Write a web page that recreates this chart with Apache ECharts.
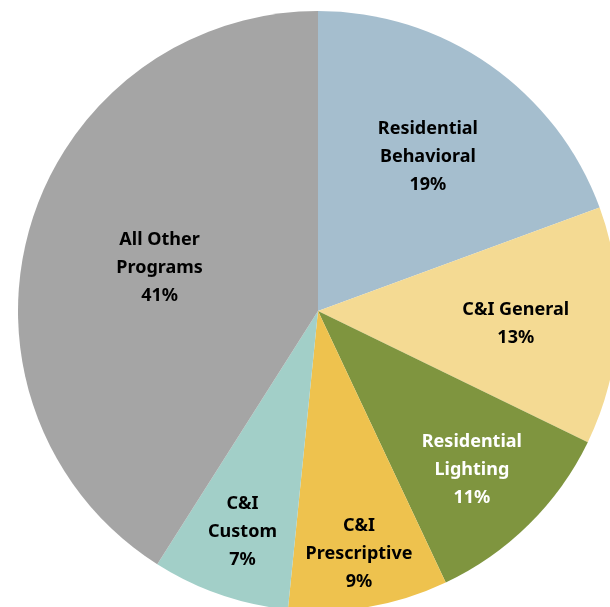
<!DOCTYPE html>
<html>
<head>
<meta charset="utf-8">
<script src="https://cdn.jsdelivr.net/npm/echarts@6/dist/echarts.min.js"></script>
<style>
  html, body { margin: 0; padding: 0; background: #fff; }
  #main { width: 610px; height: 607px; }
</style>
</head>
<body>
<div id="main"></div>
<script>
  // slices, clockwise from 12 o'clock
  var categories = ["Residential\nBehavioral", "C&I General", "Residential\nLighting", "C&I\nPrescriptive", "C&I\nCustom", "All Other\nPrograms"]
  var values = [19.4, 12.8, 10.8, 8.6, 7.4, 41.0]
  var percentLabels = ["19%", "13%", "11%", "9%", "7%", "41%"]
  var colors = ["#A5BECE", "#F4DA93", "#7F953F", "#EEC24E", "#A2CFC8", "#A5A5A5"]
  var labelColors = ["#000", "#000", "#fff", "#000", "#000", "#000"]
  // how far out each label sits, as share of the radius
  var labelDist = [0.64, 0.66, 0.73, 0.81, 0.77, 0.55]

  var cx = 318, cy = 311, R = 300
  var total = values.reduce(function (a, b) { return a + b }, 0)

  var chart = echarts.init(document.getElementById("main"))

  chart.setOption({
    animation: false,
    series: [
      {
        type: "pie",
        center: [cx, cy],
        radius: [0, R],
        startAngle: 90,
        clockwise: true,
        silent: true,
        label: {
          show: true,
          position: "inside",
          formatter: function (p) {
            return p.name + "\n" + percentLabels[p.dataIndex]
          },
          fontFamily: "Noto Sans",
          fontWeight: "bold",
          fontSize: 18,
          lineHeight: 28,
          align: "center"
        },
        labelLine: { show: false },
        labelLayout: function (p) {
          var before = 0
          for (var i = 0; i < p.dataIndex; i++) before += values[i]
          var mid = (before + values[p.dataIndex] / 2) / total * Math.PI * 2
          var r = labelDist[p.dataIndex] * R
          return {
            x: cx + r * Math.sin(mid),
            y: cy - r * Math.cos(mid) + 3,
            align: "center",
            verticalAlign: "middle"
          }
        },
        data: categories.map(function (name, i) {
          return {
            name: name,
            value: values[i],
            itemStyle: { color: colors[i] },
            label: { color: labelColors[i] }
          }
        })
      }
    ]
  })
</script>
</body>
</html>
